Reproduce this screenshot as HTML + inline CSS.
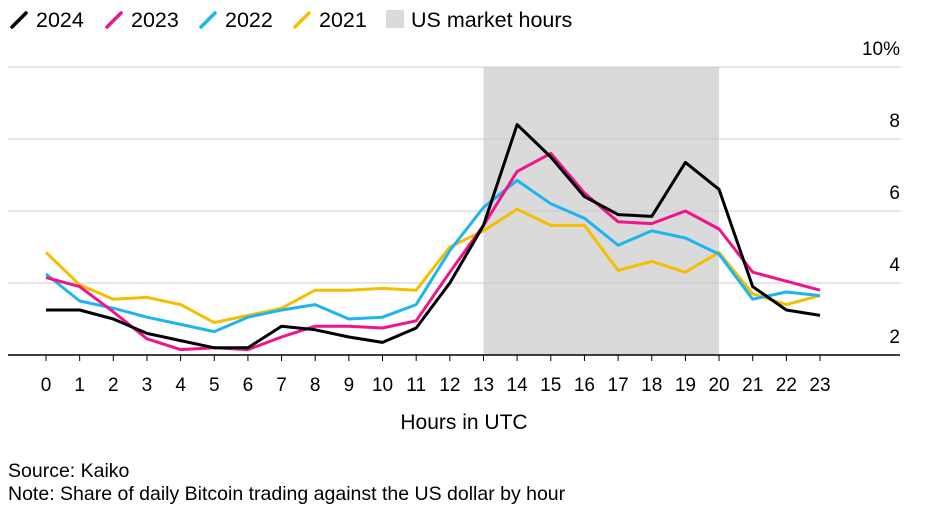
<!DOCTYPE html>
<html><head><meta charset="utf-8"><style>
body{margin:0;background:#fff;font-family:"Liberation Sans",sans-serif;}
svg text{font-family:"Liberation Sans",sans-serif;}
</style></head><body>
<svg id="c" width="928" height="517" xmlns="http://www.w3.org/2000/svg"></svg>
<script>
const hours=[0,1,2,3,4,5,6,7,8,9,10,11,12,13,14,15,16,17,18,19,20,21,22,23];
const s2024=[3.25,3.25,3.0,2.6,2.4,2.2,2.2,2.8,2.7,2.5,2.35,2.75,4.0,5.6,8.4,7.5,6.4,5.9,5.85,7.35,6.6,3.9,3.25,3.1];
const s2023=[4.15,3.9,3.2,2.45,2.15,2.2,2.15,2.5,2.8,2.8,2.75,2.95,4.3,5.6,7.1,7.6,6.5,5.7,5.65,6.0,5.5,4.3,4.05,3.8];
const s2022=[4.25,3.5,3.3,3.05,2.85,2.65,3.05,3.25,3.4,3.0,3.05,3.4,4.9,6.1,6.85,6.2,5.8,5.05,5.45,5.25,4.8,3.55,3.75,3.65];
const s2021=[4.85,3.95,3.55,3.6,3.4,2.9,3.1,3.3,3.8,3.8,3.85,3.8,5.0,5.45,6.05,5.6,5.6,4.35,4.6,4.3,4.85,3.7,3.4,3.65];
const yTicks=[2,4,6,8,10];
const shadeStart=13, shadeEnd=20;
const NS="http://www.w3.org/2000/svg";
const svg=document.getElementById('c');
const X=h=>46+h*(774/23);
const Y=v=>355-(v-2)*36;
function mk(t,a,txt){const e=document.createElementNS(NS,t);for(const k in a)e.setAttribute(k,a[k]);if(txt!==undefined)e.textContent=txt;svg.appendChild(e);return e;}
let r=mk('rect',{x:X(shadeStart),y:Y(10),width:X(shadeEnd)-X(shadeStart),height:Y(2)-Y(10),fill:'#dadada'});


yTicks.forEach(v=>{
 const l=mk('line',{x1:8,x2:900,y1:Y(v),y2:Y(v),stroke:v===2?'#000':'#cccccc','stroke-width':v===2?1.5:1});
 
 
 const t=mk('text',{x:900,y:Y(v)-12,'text-anchor':'end','font-size':19,fill:'#000'},v===10?'10%':String(v));
 
 
});
hours.forEach(h=>{
 const l=mk('line',{x1:X(h),x2:X(h),y1:355,y2:361,stroke:'#000','stroke-width':1});
 
 
 const t=mk('text',{x:X(h),y:391,'text-anchor':'middle','font-size':19,fill:'#000'},String(h));
 
 
});
const series=[[s2021,'#f5be00','2021'],[s2022,'#1eb4f0','2022'],[s2023,'#f0148c','2023'],[s2024,'#000000','2024']];
series.forEach(([d,c,n])=>{
 const p=mk('polyline',{points:d.map((v,i)=>X(hours[i])+','+Y(v)).join(' '),fill:'none',stroke:c,'stroke-width':3,'stroke-linejoin':'round'});
 
 
});
let xt=mk('text',{x:464,y:429,'text-anchor':'middle','font-size':21,fill:'#000'},'Hours in UTC');


let s1=mk('text',{x:8,y:477,'font-size':19.5,fill:'#000'},'Source: Kaiko');


let s2=mk('text',{x:8,y:500,'font-size':19.5,fill:'#000'},'Note: Share of daily Bitcoin trading against the US dollar by hour');


const leg=[['2024','#000',8],['2023','#f0148c',103],['2022','#1eb4f0',197],['2021','#f5be00',291]];
leg.forEach(([n,c,x])=>{
 const l=mk('line',{x1:x+4,y1:27,x2:x+18,y2:13,stroke:c,'stroke-width':3.5,'stroke-linecap':'round'});
 
 
 const t=mk('text',{x:x+28,y:27,'font-size':21.5,fill:'#000'},n);
 
 
});
let lr=mk('rect',{x:386,y:10,width:18,height:18,fill:'#dadada'});


let lt=mk('text',{x:411,y:27,'font-size':21.5,fill:'#000'},'US market hours');


</script>
</body></html>
